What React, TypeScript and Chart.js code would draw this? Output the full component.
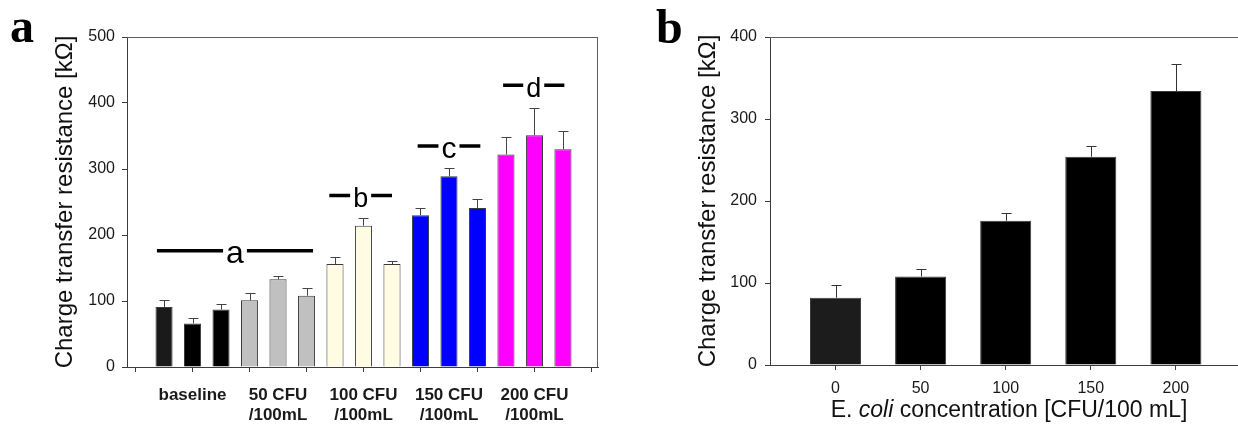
import React, { useEffect, useRef } from 'react';
import { Chart, registerables } from 'chart.js';

Chart.register(...registerables);

// ---------- data ----------
const groupLabels: string[][] = [
  ['baseline'],
  ['50 CFU', '/100mL'],
  ['100 CFU', '/100mL'],
  ['150 CFU', '/100mL'],
  ['200 CFU', '/100mL'],
];
const barsPerGroup = 3;
const resistanceA = [91, 66, 87, 101, 133, 108, 156, 214, 156, 230, 289, 241, 322, 351, 330];
const errorA = [10, 9, 9, 11, 5, 12, 11, 12, 4, 11, 13, 14, 26, 41, 27];
const xTickValuesA = [-1, 1, 3, 5, 7, 9, 11, 13, 15];
const yTicksA = [0, 100, 200, 300, 400, 500];

const bracketLetters = ['a', 'b', 'c', 'd'];
const bracketLevel = [176, 260, 335, 427];
const bracketFrom = [-0.25, 5.8, 8.9, 11.9];
const bracketTo = [5.23, 8.0, 11.1, 14.05];

const concentrationLabels = ['0', '50', '100', '150', '200'];
const resistanceB = [82, 108, 176, 254, 334];
const errorB = [15, 9, 9, 13, 33];
const yTicksB = [0, 100, 200, 300, 400];

// ---------- styles ----------
const SANS = '"Liberation Sans", Arial, Helvetica, sans-serif';
const SERIF = '"Liberation Serif", "Times New Roman", serif';
const AXIS = '#3c3c3c';
const FRAME = '#606060';
const groupColors = ['#000000', '#c0c0c0', '#fffce3', '#0000ff', '#ff00ff'];
const letterSize: Record<string, number> = { a: 32, b: 27, c: 30, d: 27 };

const framePlugin = {
  id: 'frame',
  afterDraw(chart: any, _a: any, opts: any) {
    const { ctx, chartArea: a } = chart;
    ctx.save();
    ctx.strokeStyle = FRAME;
    ctx.lineWidth = 1;
    ctx.beginPath();
    ctx.moveTo(a.left, Math.round(a.top) + 0.5);
    ctx.lineTo(a.right, Math.round(a.top) + 0.5);
    if (opts.right) {
      ctx.moveTo(Math.round(a.right) - 0.5, a.top);
      ctx.lineTo(Math.round(a.right) - 0.5, a.bottom);
    }
    ctx.stroke();
    ctx.restore();
  },
};

const errorBarPlugin = {
  id: 'errorBars',
  afterDatasetsDraw(chart: any, _a: any, opts: any) {
    const { ctx } = chart;
    const ys = chart.scales.y;
    const meta = chart.getDatasetMeta(0);
    const pts = chart.data.datasets[0].data;
    ctx.save();
    ctx.strokeStyle = opts.color;
    ctx.lineWidth = 1;
    ctx.beginPath();
    meta.data.forEach((el: any, i: number) => {
      const top = Math.round(ys.getPixelForValue(pts[i].y + opts.errors[i])) + 0.5;
      const x = Math.round(el.x) + 0.5;
      ctx.moveTo(x, el.y);
      ctx.lineTo(x, top);
      ctx.moveTo(x - opts.cap / 2, top);
      ctx.lineTo(x + opts.cap / 2, top);
    });
    ctx.stroke();
    ctx.restore();
  },
};

const bracketPlugin = {
  id: 'brackets',
  afterDatasetsDraw(chart: any) {
    const { ctx } = chart;
    const xs = chart.scales.x;
    const ys = chart.scales.y;
    ctx.save();
    bracketLetters.forEach((letter, i) => {
      const x1 = xs.getPixelForValue(bracketFrom[i]);
      const x2 = xs.getPixelForValue(bracketTo[i]);
      const y = ys.getPixelForValue(bracketLevel[i]);
      const mid = (x1 + x2) / 2;
      ctx.font = `${letterSize[letter]}px ${SANS}`;
      const w = ctx.measureText(letter).width;
      const gap = w / 2 + 3;
      ctx.strokeStyle = '#000';
      ctx.lineWidth = 3.5;
      ctx.beginPath();
      ctx.moveTo(x1, y);
      ctx.lineTo(mid - gap, y);
      ctx.moveTo(mid + gap, y);
      ctx.lineTo(x2, y);
      ctx.stroke();
      ctx.fillStyle = '#000';
      ctx.textAlign = 'center';
      ctx.textBaseline = 'alphabetic';
      ctx.fillText(letter, mid, y + 12);
    });
    ctx.restore();
  },
};

const panelLetterPlugin = {
  id: 'panelLetter',
  afterDraw(chart: any, _a: any, opts: any) {
    const { ctx } = chart;
    ctx.save();
    ctx.font = `bold 48px ${SERIF}`;
    ctx.fillStyle = '#000';
    ctx.textAlign = 'left';
    ctx.textBaseline = 'alphabetic';
    ctx.fillText(opts.text, opts.x, opts.y);
    ctx.restore();
  },
};

const xTitlePlugin = {
  id: 'xTitle',
  afterDraw(chart: any) {
    const { ctx, chartArea: a } = chart;
    const parts: [string, string][] = [
      ['E. ', 'normal'],
      ['coli', 'italic'],
      [' concentration [CFU/100 mL]', 'normal'],
    ];
    ctx.save();
    let total = 0;
    const widths = parts.map(([t, s]) => {
      ctx.font = `${s} 23px ${SANS}`;
      const w = ctx.measureText(t).width;
      total += w;
      return w;
    });
    let x = (a.left + a.right) / 2 + 5 - total / 2;
    const y = a.bottom + 52;
    ctx.fillStyle = '#111';
    ctx.textAlign = 'left';
    ctx.textBaseline = 'alphabetic';
    parts.forEach(([t, s], i) => {
      ctx.font = `${s} 23px ${SANS}`;
      ctx.fillText(t, x, y);
      x += widths[i];
    });
    ctx.restore();
  },
};

function ChartA() {
  const ref = useRef<HTMLCanvasElement>(null);
  useEffect(() => {
    const labelTicks = groupLabels.map((_, g) => g * barsPerGroup + 1);
    const allTicks = Array.from(new Set([...xTickValuesA, ...labelTicks])).sort((p, q) => p - q);
    const colors = resistanceA.map((_, i) => groupColors[Math.floor(i / barsPerGroup)]);
    colors[0] = '#1a1a1a';
    const chart = new Chart(ref.current as HTMLCanvasElement, {
      type: 'bar',
      data: {
        datasets: [
          {
            data: resistanceA.map((v, i) => ({ x: i, y: v })),
            backgroundColor: colors,
            borderColor: '#3a3a3a',
            borderWidth: 1,
            barPercentage: 0.6,
            categoryPercentage: 1,
          } as any,
        ],
      },
      options: {
        animation: false,
        responsive: false,
        maintainAspectRatio: false,
        layout: { padding: { top: 37, right: 17, left: 0, bottom: 0 } },
        plugins: {
          legend: { display: false },
          tooltip: { enabled: false },
          errorBars: { errors: errorA, cap: 10, color: '#444' },
          frame: { right: true },
          panelLetter: { text: 'a', x: 10, y: 42 },
        } as any,
        scales: {
          x: {
            type: 'linear',
            min: -1.3,
            max: 15.23,
            offset: false,
            grid: {
              offset: false,
              drawOnChartArea: false,
              drawTicks: true,
              tickLength: 5,
              tickColor: (c: any) => (xTickValuesA.includes(c.tick?.value) ? AXIS : 'rgba(0,0,0,0)'),
            },
            border: { color: AXIS, width: 1 },
            afterBuildTicks: (axis: any) => {
              axis.ticks = allTicks.map((v) => ({ value: v }));
            },
            ticks: {
              autoSkip: false,
              maxRotation: 0,
              minRotation: 0,
              padding: 13,
              color: '#1a1a1a',
              font: { family: SANS, size: 17, weight: 'bold', lineHeight: 1.18 },
              callback: (v: any) => {
                const g = labelTicks.indexOf(Number(v));
                return g >= 0 ? groupLabels[g] : '';
              },
            },
            afterFit: (s: any) => {
              s.height = 66;
            },
          } as any,
          y: {
            min: 0,
            max: 500,
            afterBuildTicks: (axis: any) => {
              axis.ticks = yTicksA.map((v) => ({ value: v }));
            },
            grid: { drawOnChartArea: false, drawTicks: true, tickLength: 5, tickColor: AXIS },
            border: { color: AXIS, width: 1 },
            ticks: { padding: 7, color: '#1a1a1a', font: { family: SANS, size: 16 } },
            title: {
              display: true,
              text: 'Charge transfer resistance [kΩ]',
              color: '#111',
              font: { family: SANS, size: 24 },
              padding: { top: 51, bottom: 0 },
            },
            afterFit: (s: any) => {
              s.width = 127;
            },
          } as any,
        },
      },
      plugins: [framePlugin, errorBarPlugin, bracketPlugin, panelLetterPlugin],
    });
    return () => chart.destroy();
  }, []);
  return <canvas ref={ref} width={615} height={433} style={{ display: 'block' }} />;
}

function ChartB() {
  const ref = useRef<HTMLCanvasElement>(null);
  useEffect(() => {
    const colors = resistanceB.map(() => '#000000');
    colors[0] = '#1c1c1c';
    const chart = new Chart(ref.current as HTMLCanvasElement, {
      type: 'bar',
      data: {
        datasets: [
          {
            data: resistanceB.map((v, i) => ({ x: i, y: v })),
            backgroundColor: colors,
            borderColor: '#3a3a3a',
            borderWidth: 1,
            barPercentage: 0.6,
            categoryPercentage: 1,
          } as any,
        ],
      },
      options: {
        animation: false,
        responsive: false,
        maintainAspectRatio: false,
        layout: { padding: { top: 37, right: 0, left: 0, bottom: 0 } },
        plugins: {
          legend: { display: false },
          tooltip: { enabled: false },
          errorBars: { errors: errorB, cap: 10, color: '#333' },
          frame: { right: false },
          panelLetter: { text: 'b', x: 36, y: 43 },
        } as any,
        scales: {
          x: {
            type: 'linear',
            min: -0.77,
            max: 4.73,
            offset: false,
            grid: { offset: false, drawOnChartArea: false, drawTicks: true, tickLength: 5, tickColor: AXIS },
            border: { color: AXIS, width: 1 },
            afterBuildTicks: (axis: any) => {
              axis.ticks = concentrationLabels.map((_, i) => ({ value: i }));
            },
            ticks: {
              autoSkip: false,
              maxRotation: 0,
              minRotation: 0,
              padding: 9,
              color: '#1a1a1a',
              font: { family: SANS, size: 16 },
              callback: (v: any) => concentrationLabels[Number(v)] ?? '',
            },
            afterFit: (s: any) => {
              s.height = 68;
            },
          } as any,
          y: {
            min: 0,
            max: 400,
            afterBuildTicks: (axis: any) => {
              axis.ticks = yTicksB.map((v) => ({ value: v }));
            },
            grid: { drawOnChartArea: false, drawTicks: true, tickLength: 5, tickColor: AXIS },
            border: { color: AXIS, width: 1 },
            ticks: { padding: 8, color: '#1a1a1a', font: { family: SANS, size: 16 } },
            title: {
              display: true,
              text: 'Charge transfer resistance [kΩ]',
              color: '#111',
              font: { family: SANS, size: 24 },
              padding: { top: 74, bottom: 0 },
            },
            afterFit: (s: any) => {
              s.width = 150;
            },
          } as any,
        },
      },
      plugins: [framePlugin, errorBarPlugin, xTitlePlugin, panelLetterPlugin],
    });
    return () => chart.destroy();
  }, []);
  return <canvas ref={ref} width={618} height={433} style={{ display: 'block' }} />;
}

export default function App() {
  return (
    <div style={{ position: 'fixed', left: 0, top: 0, width: 1238, height: 433, background: '#fff', overflow: 'hidden' }}>
      <div style={{ position: 'absolute', left: 0, top: 0 }}>
        <ChartA />
      </div>
      <div style={{ position: 'absolute', left: 620, top: 0 }}>
        <ChartB />
      </div>
    </div>
  );
}
